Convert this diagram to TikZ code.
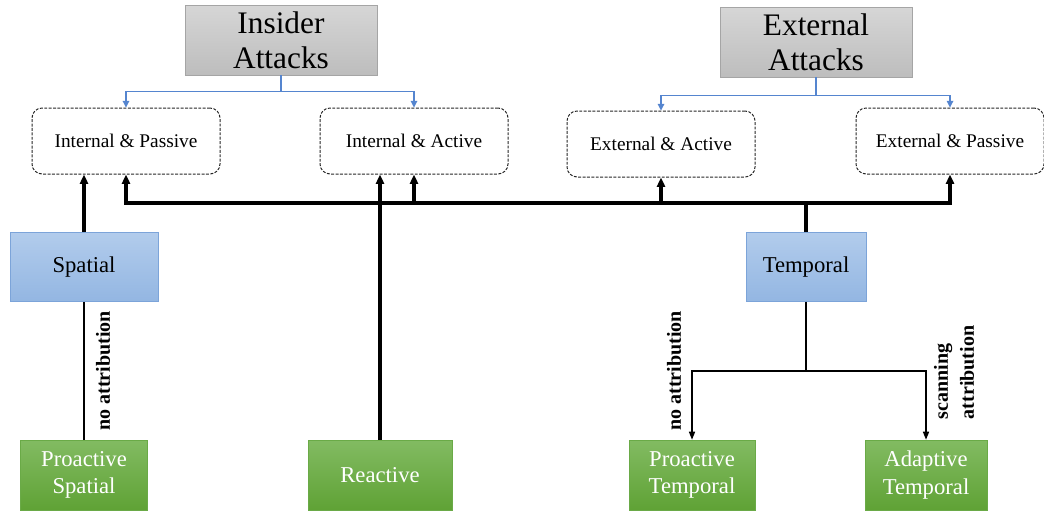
\documentclass[tikz,border=0pt]{standalone}
\usepackage{fontspec}
\setmainfont{Liberation Serif}
\usetikzlibrary{positioning,calc,arrows.meta,shadows}

\definecolor{graytop}{HTML}{D6D6D6}
\definecolor{graybot}{HTML}{BDBDBD}
\definecolor{grayedge}{HTML}{A5A5A5}
\definecolor{bluetop}{HTML}{B2CCEC}
\definecolor{bluebot}{HTML}{93B6E2}
\definecolor{blueedge}{HTML}{7CA4D9}
\definecolor{greentop}{HTML}{82BB62}
\definecolor{greenbot}{HTML}{5FA235}
\definecolor{greenedge}{HTML}{6AAA47}
\definecolor{feedblue}{HTML}{5585CF}

\begin{document}
\begin{tikzpicture}[
  on grid,
  attack/.style={draw=grayedge,top color=graytop,bottom color=graybot,minimum width=144pt,minimum height=52.5pt,align=center,inner sep=0pt,font=\fontsize{23.5}{26}\selectfont},
  kind/.style={draw=black!85,line width=0.75pt,dash pattern=on 2.2pt off 1.1pt,rounded corners=7.5pt,minimum width=141pt,minimum height=49.5pt,font=\fontsize{14.5}{17}\selectfont},
  fieldbox/.style={draw=blueedge,top color=bluetop,bottom color=bluebot,minimum height=52pt,font=\fontsize{17}{20}\selectfont},
  defence/.style={draw=greenedge,top color=greentop,bottom color=greenbot,text=white,minimum height=52.5pt,align=center,inner sep=0pt,font=\fontsize{17}{20.5}\selectfont,drop shadow={shadow xshift=0.8pt,shadow yshift=-0.8pt,opacity=0.35}},
  lbl/.style={rotate=90,align=left,inner sep=0pt,font=\bfseries\fontsize{15}{19.5}\selectfont},
  feed/.style={feedblue,line width=0.8pt,-{Triangle[length=5pt,width=5pt]}},
  bus/.style={line width=2.4pt},
  up/.style={line width=2.4pt,-{Triangle[length=7pt,width=6pt]}},
  plain/.style={line width=1.2pt},
  down/.style={line width=1.1pt,-{Triangle[length=6pt,width=4.5pt]}},
]
\useasboundingbox (0,0) rectangle (783pt,-384pt);

% attack classes
\node[kind] (ip) at (94.5pt,-105.75pt) {Internal \& Passive};
\node[kind,right=216pt of ip] (ia) {Internal \& Active};
\node[kind,below right=2.25pt and 185.25pt of ia] (ea) {External \& Active};
\node[kind,right=402pt of ia] (ep) {External \& Passive};
\node[attack,above right=75.75pt and 116.25pt of ip] (ins) {Insider\\Attacks};
\node[attack,above right=76.5pt and 116.25pt of ea] (ext) {External\\Attacks};

% defences
\node[fieldbox,minimum width=111pt,below left=94.5pt and 31.5pt of ip] (spa) {Spatial};
\node[fieldbox,minimum width=90pt,below left=94.5pt and 108pt of ep] (tem) {Temporal};
\node[defence,minimum width=95pt,below=156pt of spa] (ps) {Proactive\\Spatial};
\node[defence,minimum width=108pt,right=222pt of ps] (re) {Reactive};
\node[defence,minimum width=94.5pt,below left=156pt and 85.5pt of tem] (pt) {Proactive\\Temporal};
\node[defence,minimum width=91.5pt,right=175.5pt of pt] (at) {Adaptive\\Temporal};

% blue links
\draw[feed] (ins.south) -- ++(0,-12pt) -| (ip.north);
\draw[feed] (ins.south) -- ++(0,-12pt) -| (ia.north);
\draw[feed] (ext.south) -- ++(0,-13.5pt) -| (ea.north);
\draw[feed] (ext.south) -- ++(0,-13.5pt) -| (ep.north);

% temporal bus
\coordinate[above=21.75pt of tem.north] (bus);
\draw[bus] (tem.north) -- (bus);
\draw[up] (bus) -| (ip.south);
\draw[up] (bus) -| (ep.south);
\draw[up] (ia.south |- bus) -- (ia.south);
\draw[up] (ea.south |- bus) -- (ea.south);
\draw[up] (spa.north) -- (spa.north |- ip.south);
\draw[up] (re.north) -- (re.north |- ia.south);

\draw[plain] (spa.south) -- (spa.south |- ps.north);
\draw[down] (tem.south) -- ++(0,-51.75pt) -| (pt.north);
\draw[down] (tem.south) -- ++(0,-51.75pt) -| (at.north);

\node[lbl] (nospa) at ($(spa.south)!0.5!(ps.north)+(14.25pt,0)$) {no attribution};
\node[lbl] (nopt) at ($(pt.north)+(-13.5pt,51.75pt)$) {no attribution};
\node[lbl] (scan) at ($(at.north)+(21pt,50.5pt)$) {scanning\\attribution};
\end{tikzpicture}
\end{document}
